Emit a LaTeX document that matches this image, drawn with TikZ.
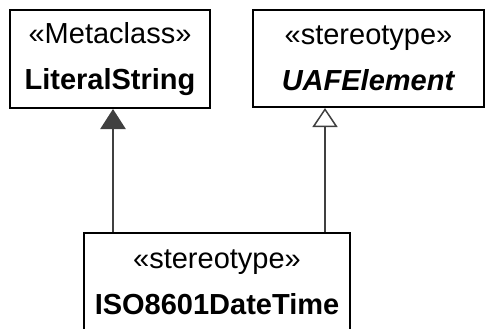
\documentclass[tikz,border=0pt]{standalone}
\usepackage{fontspec}
\setmainfont{Liberation Sans}
\usetikzlibrary{arrows.meta}
\definecolor{edge}{RGB}{64,64,64}

\begin{document}
\begin{tikzpicture}[x=1pt,y=-1pt,
    umlclass/.style={draw=black,line width=2pt,inner sep=0pt,align=center,anchor=north west,
      font=\fontsize{29}{46}\selectfont},
    extension/.style={draw=edge,line width=2.5pt,-{Triangle[length=20pt,width=25pt,fill=edge]}},
    generalization/.style={draw=edge,line width=2.5pt,-{Triangle[open,length=19pt,width=25pt,line width=1.5pt,fill=white]}}]
    \useasboundingbox (0,0) rectangle (485,329);
    \clip (0,0) rectangle (485,329);
    \node[umlclass,minimum width=200pt,minimum height=98pt] (lit) at (9,9) {«Metaclass»\\\textbf{LiteralString}};
    \node[umlclass,minimum width=231pt,minimum height=97pt] (uaf) at (252,9) {«stereotype»\\\textbf{\textit{UAFElement}}};
    \node[umlclass,minimum width=266pt,minimum height=98pt] (iso) at (83,232) {«stereotype»\\\textbf{ISO8601DateTime}};
    \coordinate (litx) at (113,0);
    \coordinate (uafx) at (325,0);
    \draw[extension] (iso.north -| litx) -- (lit.south -| litx);
    \draw[generalization] (iso.north -| uafx) -- (uaf.south -| uafx);
\end{tikzpicture}
\end{document}
